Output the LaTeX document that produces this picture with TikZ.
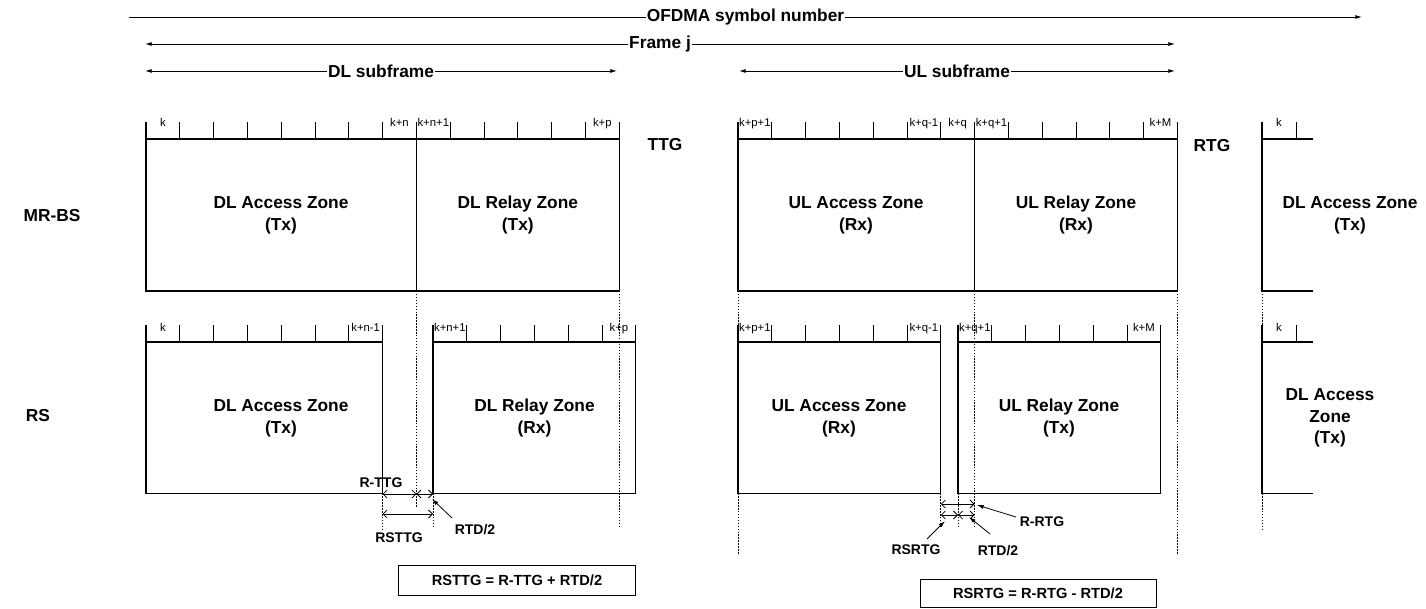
\documentclass[tikz,border=0pt]{standalone}
\usepackage{fontspec}
\setmainfont{Liberation Sans}
\usetikzlibrary{arrows.meta}
\newcommand{\zonebox}[5]{% #1 x0, #2 intervals, #3 tick top, #4 line y, #5 bottom y
  \pgfmathsetmacro{\zbxe}{#1+#2*33.8}
  \draw[boxline] (#1,#3) -- (#1,#5) -- (\zbxe,#5) -- (\zbxe,#3);
  \draw[boxline] (#1,#4) -- (\zbxe,#4);
  \pgfmathtruncatemacro{\zbn}{#2-1}
  \foreach \i in {1,...,\zbn}{\draw[tickline] ({#1+\i*33.8},#3) -- ({#1+\i*33.8},#4);}
}
\newcommand{\ticktext}[4]{% #1 name, #2 interval left x, #3 baseline y, #4 text
  \node[ticklab] (#1) at ({#2+16.9},#3) {#4};}
\begin{document}
\begin{tikzpicture}[x=0.75pt,y=-0.75pt,
  boxline/.style={line width=0.9pt},
  tickline/.style={line width=0.7pt},
  dotline/.style={line width=0.6pt, dash pattern=on 1.1pt off 1.1pt},
  toparrow/.style={line width=0.7pt, -{Latex[length=5pt,width=3pt]}},
  toparrows/.style={line width=0.7pt, {Latex[length=5pt,width=3pt]}-{Latex[length=5pt,width=3pt]}},
  toplab/.style={font=\bfseries\fontsize{13}{15}\selectfont, fill=white, inner sep=0.6pt},
  zonelab/.style={font=\bfseries\fontsize{13}{16.3}\selectfont, align=center},
  biglab/.style={font=\bfseries\fontsize{13}{15}\selectfont},
  smalllab/.style={font=\bfseries\fontsize{10.5}{12}\selectfont, inner sep=0pt},
  ticklab/.style={font=\fontsize{8.5}{10}\selectfont, inner sep=0pt, anchor=base},
  meas/.style={line width=0.6pt, {Straight Barb[length=3pt,width=6pt]}-{Straight Barb[length=3pt,width=6pt]}},
  pointer/.style={line width=0.6pt, -{Latex[length=5pt,width=3pt]}},
  formula/.style={draw, line width=0.7pt, font=\bfseries\fontsize{11}{13}\selectfont, inner sep=0pt}
]
\useasboundingbox (0,0) rectangle (1426,609);

% ---------- top arrows ----------
\coordinate (ofs) at (129,17);  \coordinate (ofe) at (1362,17);
\coordinate (frs) at (145,44);  \coordinate (fre) at (1175,44);
\coordinate (dls) at (145,71);  \coordinate (dle) at (617,71);
\coordinate (uls) at (739,71);  \coordinate (ule) at (1175,71);
\draw[toparrow] (ofs) -- node[toplab] (ofdma) {OFDMA symbol number} (ofe);
\draw[toparrows] (frs) -- node[toplab] (frame) {Frame j} (fre);
\draw[toparrows] (dls) -- node[toplab] (dlsub) {DL subframe} (dle);
\draw[toparrows] (uls) -- node[toplab] (ulsub) {UL subframe} (ule);

% ---------- MR-BS row ----------
\zonebox{146}{8}{122}{139}{291}
\zonebox{416.4}{6}{122}{139}{291}
\zonebox{738}{7}{122}{139}{291}
\zonebox{974.6}{6}{122}{139}{291}
\draw[boxline] (1262,122) -- (1262,291) -- (1313,291);
\draw[boxline] (1262,139) -- (1313,139);
\draw[tickline] (1296,122) -- (1296,139);

\ticktext{m1}{146}{127}{k}
\ticktext{m2}{382.6}{127}{k+n}
\ticktext{m3}{416.4}{127}{k+n+1}
\ticktext{m4}{585.4}{127}{k+p}
\ticktext{m5}{738}{127}{k+p+1}
\ticktext{m6}{907}{127}{k+q-1}
\ticktext{m7}{940.8}{127}{k+q}
\ticktext{m8}{974.6}{127}{k+q+1}
\ticktext{m9}{1143.6}{127}{k+M}
\ticktext{m10}{1262}{127}{k}

\node[biglab] (mrbs) at (52,216) {MR-BS};
\node[biglab] (ttg) at (665,145) {TTG};
\node[biglab] (rtg) at (1212,146) {RTG};
\node[zonelab] (z1) at (281,215) {DL Access Zone\\(Tx)};
\node[zonelab] (z2) at (517.8,215) {DL Relay Zone\\(Tx)};
\node[zonelab] (z3) at (856,215) {UL Access Zone\\(Rx)};
\node[zonelab] (z4) at (1076,215) {UL Relay Zone\\(Rx)};
\node[zonelab] (z5) at (1350,215) {DL Access Zone\\(Tx)};

% ---------- dotted guide lines ----------
\draw[dotline] (416.4,291) -- (416.4,507);
\draw[dotline] (619.2,291) -- (619.2,528);
\draw[dotline] (382.6,493.5) -- (382.6,530);
\draw[dotline] (433,493.5) -- (433,528);
\draw[dotline] (738,291) -- (738,555);
\draw[dotline] (974.6,291) -- (974.6,527);
\draw[dotline] (940.8,493.5) -- (940.8,527);
\draw[dotline] (958,493.5) -- (958,527);
\draw[dotline] (1177.4,291) -- (1177.4,555);
\draw[dotline] (1262,291) -- (1262,530);

% ---------- RS row ----------
\zonebox{146}{7}{325}{342}{493.5}
\zonebox{433}{6}{325}{342}{493.5}
\zonebox{738}{6}{325}{342}{493.5}
\zonebox{958}{6}{325}{342}{493.5}
\draw[boxline] (1262,325) -- (1262,493.5) -- (1313,493.5);
\draw[boxline] (1262,342) -- (1313,342);
\draw[tickline] (1296,325) -- (1296,342);

\ticktext{r1}{146}{331}{k}
\ticktext{r2}{348.8}{331}{k+n-1}
\ticktext{r3}{433}{331}{k+n+1}
\ticktext{r4}{602}{331}{k+p}
\ticktext{r5}{738}{331}{k+p+1}
\ticktext{r6}{907}{331}{k+q-1}
\ticktext{r7}{958}{331}{k+q+1}
\ticktext{r8}{1127}{331}{k+M}
\ticktext{r9}{1262}{331}{k}

\node[biglab] (rs) at (38,416) {RS};
\node[zonelab] (y1) at (281,418) {DL Access Zone\\(Tx)};
\node[zonelab] (y2) at (534.5,418) {DL Relay Zone\\(Rx)};
\node[zonelab] (y3) at (839,418) {UL Access Zone\\(Rx)};
\node[zonelab] (y4) at (1059,418) {UL Relay Zone\\(Tx)};
\node[zonelab] (y5) at (1330,418) {DL Access\\Zone\\(Tx)};

% ---------- DL gap measurements ----------
\coordinate (dA) at (382.6,494); \coordinate (dB) at (416.4,494); \coordinate (dC) at (433,494);
\coordinate (dA2) at (382.6,514); \coordinate (dC2) at (433,514);
\draw[meas] (dA) -- (dB);
\draw[meas] (dB) -- (dC);
\draw[meas] (dA2) -- (dC2);
\node[smalllab] (rttg) at (381,483) {R-TTG};
\node[smalllab] (rsttg) at (399,538) {RSTTG};
\node[smalllab] (rtdA) at (475,530) {RTD/2};
\coordinate (pAt) at (452,518); \coordinate (pAh) at (432,499);
\draw[pointer] (pAt) -- (pAh);

% ---------- UL gap measurements ----------
\coordinate (uA) at (940.8,504); \coordinate (uC) at (974.6,504);
\coordinate (uA2) at (940.8,515); \coordinate (uB2) at (958,515); \coordinate (uC2) at (974.6,515);
\draw[meas] (uA) -- (uC);
\draw[meas] (uA2) -- (uB2);
\draw[meas] (uB2) -- (uC2);
\node[smalllab] (rrtg) at (1042,522) {R-RTG};
\node[smalllab] (rsrtg) at (916,550) {RSRTG};
\node[smalllab] (rtdB) at (998,551) {RTD/2};
\coordinate (p1t) at (1016,517); \coordinate (p1h) at (977,505);
\coordinate (p2t) at (927,539);  \coordinate (p2h) at (945,521);
\coordinate (p3t) at (990,534);  \coordinate (p3h) at (969,517);
\draw[pointer] (p1t) -- (p1h);
\draw[pointer] (p2t) -- (p2h);
\draw[pointer] (p3t) -- (p3h);

% ---------- formula boxes ----------
\node[formula, minimum width=178pt, minimum height=23pt] (f1) at (517,580.5) {RSTTG = R-TTG + RTD/2};
\node[formula, minimum width=177pt, minimum height=21.5pt] (f2) at (1038,593.5) {RSRTG = R-RTG - RTD/2};
\end{tikzpicture}
\end{document}
